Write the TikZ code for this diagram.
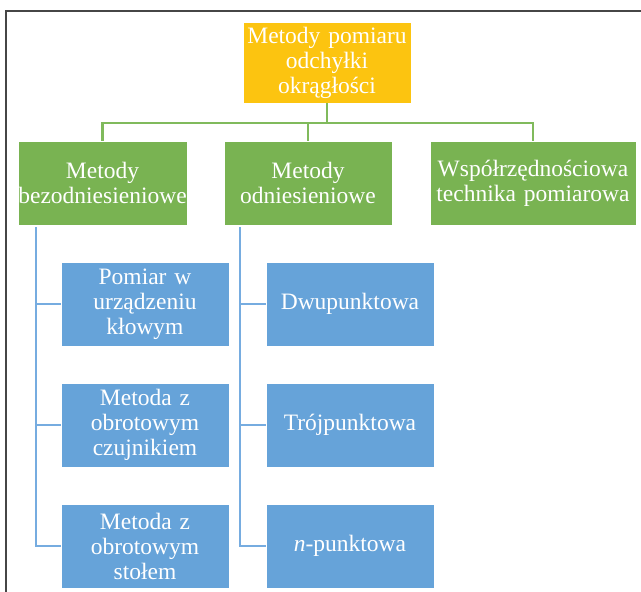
\documentclass[tikz,border=0pt]{standalone}
\usepackage{fontspec}
\setmainfont{Liberation Serif}
\definecolor{goldc}{RGB}{252,196,16}
\definecolor{greenc}{RGB}{121,179,82}
\definecolor{bluec}{RGB}{102,163,217}
\definecolor{greenl}{RGB}{128,186,92}
\definecolor{bluel}{RGB}{118,172,224}
\definecolor{framec}{RGB}{70,70,70}
\tikzset{
  boxbase/.style={draw=white, line width=0.6pt, inner sep=0pt, align=center, text=white,
    font=\fontsize{23.5}{25}\selectfont, minimum height=84pt},
  goldbox/.style={boxbase, fill=goldc, minimum width=168pt, text width=168pt, minimum height=81pt},
  greenbox/.style={boxbase, fill=greenc},
  bluebox/.style={boxbase, fill=bluec, minimum width=168pt, text width=164pt},
  gline/.style={draw=greenl, line width=2.2pt},
  bline/.style={draw=bluel, line width=2.2pt},
}
\begin{document}
\begin{tikzpicture}[x=1pt,y=-1pt]
\useasboundingbox (0,0) rectangle (641,592);
\fill[white] (0,0) rectangle (641,592);
\draw[framec, line width=1.3pt] (6,592) -- (6,11) -- (641,11);

\node[goldbox] (top) at (327,62.5) {Metody pomiaru\\odchyłki\\okrągłości};
\node[greenbox, minimum width=169pt, text width=169pt] (g1) at (102.5,183) {Metody\\bezodniesieniowe};
\node[greenbox, minimum width=168pt, text width=168pt] (g2) at (308,183) {Metody\\odniesieniowe};
\node[greenbox, minimum width=206pt, text width=206pt] (g3) at (533,183) {Współrzędnościowa\\technika pomiarowa};

\node[bluebox] (b1) at (145,304) {Pomiar w\\urządzeniu\\kłowym};
\node[bluebox] (b2) at (145,425) {Metoda z\\obrotowym\\czujnikiem};
\node[bluebox] (b3) at (145,546) {Metoda z\\obrotowym\\stołem};
\node[bluebox] (c1) at (350,304) {Dwupunktowa};
\node[bluebox] (c2) at (350,425) {Trójpunktowa};
\node[bluebox] (c3) at (350,546) {\textit{n}-punktowa};

\draw[gline] (top.south) -- ++(0,20) -| (g1.north);
\draw[gline] (top.south) -- ++(0,20) -| (g2.north);
\draw[gline] (top.south) -- ++(0,20) -| (g3.north);

\draw[bline] (g1.south west) ++(18,2) |- (b3.west);
\draw[bline] (g1.south west) ++(18,2) |- (b1.west);
\draw[bline] (g1.south west) ++(18,2) |- (b2.west);
\draw[bline] (g2.south west) ++(16,2) |- (c3.west);
\draw[bline] (g2.south west) ++(16,2) |- (c1.west);
\draw[bline] (g2.south west) ++(16,2) |- (c2.west);
\end{tikzpicture}
\end{document}
